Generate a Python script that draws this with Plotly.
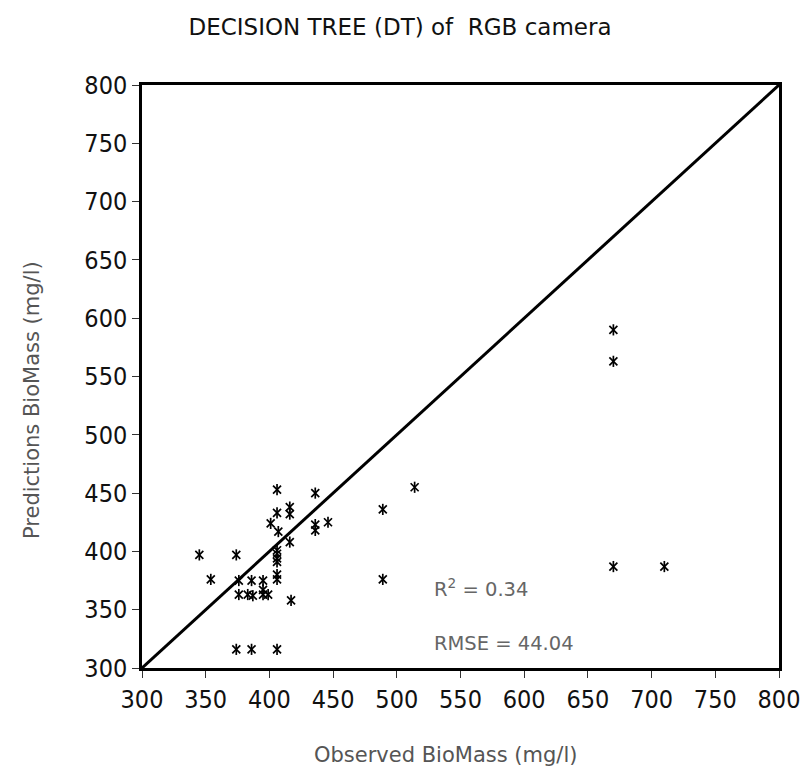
import plotly.graph_objects as go

# Observed vs predicted biomass (mg/l)
observed = [406, 436, 406, 416, 416, 401, 407, 436, 436, 446, 416,
            406, 406, 406, 406, 345, 374, 406, 406, 354, 376, 386, 395,
            376, 383, 387, 395, 395, 399, 417, 374, 386, 406,
            489, 489, 514, 670, 670, 670, 710]
predicted = [453, 450, 433, 438, 432, 424, 417, 423, 418, 425, 408,
             401, 398, 394, 391, 397, 397, 380, 376, 376, 375, 375, 375,
             363, 363, 362, 367, 363, 363, 358, 316, 316, 316,
             436, 376, 455, 590, 563, 387, 387]

line_x = [300, 800]
line_y = [300, 800]

ticks = [300, 350, 400, 450, 500, 550, 600, 650, 700, 750, 800]

title_text = "DECISION TREE (DT) of  RGB camera"
x_title = "Observed BioMass (mg/l)"
y_title = "Predictions BioMass (mg/l)"
r2_text = "R<sup>2</sup> = 0.34"
rmse_text = "RMSE = 44.04"

tick_font = dict(family="Liberation Sans Narrow, DejaVu Sans Condensed, Liberation Sans, sans-serif",
                 size=25, color="#111111")
label_font = dict(family="DejaVu Sans, sans-serif", size=21, color="#555555")

W, H = 806, 776
L, R, T, B = 142, 27, 85, 108
PW, PH = W - L - R, H - T - B


def px(xp):
    return (xp - L) / PW


def py(yp):
    return (H - B - yp) / PH


fig = go.Figure()
fig.add_trace(go.Scatter(x=line_x, y=line_y, mode="lines",
                         line=dict(color="black", width=3), hoverinfo="skip"))
fig.add_trace(go.Scatter(x=observed, y=predicted, mode="markers",
                         marker=dict(symbol="x-thin-open", size=8, color="black",
                                     line=dict(color="black", width=1.7))))
fig.add_trace(go.Scatter(x=observed, y=predicted, mode="markers",
                         marker=dict(symbol="line-ns-open", size=8, color="black",
                                     line=dict(color="black", width=1.7))))

axis_common = dict(range=[300, 800], tickvals=ticks, ticks="outside", ticklen=7,
                   tickcolor="#333333", tickwidth=1, showline=True, linecolor="black",
                   linewidth=2.5, mirror=True, showgrid=False, zeroline=False,
                   tickfont=tick_font, automargin=False)

fig.update_layout(
    width=W, height=H,
    margin=dict(l=L, r=R, t=T, b=B),
    paper_bgcolor="white", plot_bgcolor="white",
    showlegend=False,
    title=dict(text=title_text, x=400 / W, xanchor="center", y=1 - 27 / H, yanchor="middle",
               font=dict(family="DejaVu Sans, Verdana, sans-serif", size=23, color="#111111")),
    xaxis=dict(**axis_common),
    yaxis=dict(**axis_common),
    annotations=[
        dict(x=px(445), y=py(755), xref="paper", yref="paper", text=x_title,
             showarrow=False, xanchor="center", yanchor="middle", font=label_font),
        dict(x=px(32), y=py(400), xref="paper", yref="paper", text=y_title,
             showarrow=False, xanchor="center", yanchor="middle", textangle=-90,
             font=label_font),
        dict(x=528, y=369, xref="x", yref="y", text=r2_text, showarrow=False,
             xanchor="left", yanchor="middle",
             font=dict(family="DejaVu Sans, sans-serif", size=19.5, color="#666666")),
        dict(x=528, y=321, xref="x", yref="y", text=rmse_text, showarrow=False,
             xanchor="left", yanchor="middle",
             font=dict(family="DejaVu Sans, sans-serif", size=19.5, color="#666666")),
    ],
)

fig.write_html("out.html", config={"displayModeBar": False},
               post_script="document.body.style.margin='0';")
